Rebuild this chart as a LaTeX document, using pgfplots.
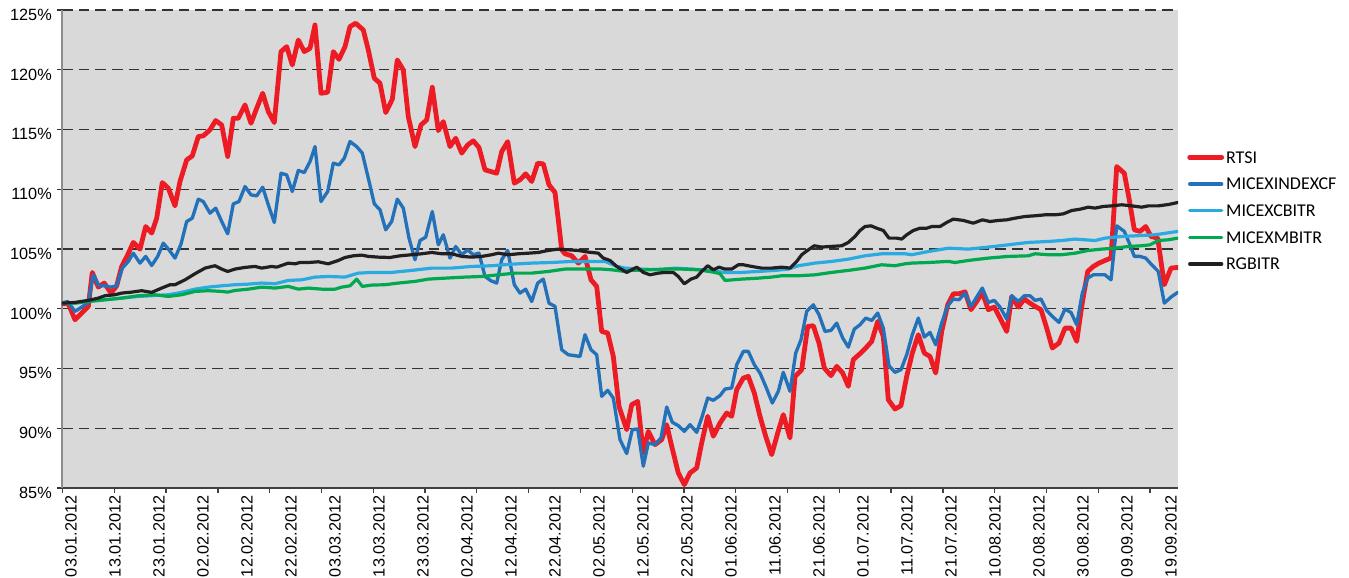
\documentclass[border=0pt]{standalone}
\usepackage{fontspec}
\setmainfont{Liberation Sans}
\newfontfamily\carlito{Carlito}
\usepackage{pgfplots}
\pgfplotsset{compat=1.18}
\definecolor{bgc}{RGB}{217,217,217}
\definecolor{cred}{RGB}{237,28,36}
\definecolor{cblue}{RGB}{34,113,185}
\definecolor{clblue}{RGB}{41,171,226}
\definecolor{cgreen}{RGB}{0,169,79}
\definecolor{cblack}{RGB}{35,31,32}
\begin{document}
\begin{tikzpicture}
\useasboundingbox (-46.5pt,-67.5pt) rectangle (965.25pt,366pt);
\begin{axis}[
  at={(0pt,0pt)}, anchor=south west,
  scale only axis, width=837pt, height=358.5pt,
  xmin=0, xmax=1116, ymin=85, ymax=125,
  axis background/.style={fill=bgc},
  axis x line*=bottom, axis y line*=left,
  x axis line style={draw=black!75, line width=1.6pt, -},
  y axis line style={draw=black!45, line width=1pt, -},
  ytick={85,90,...,125},
  yticklabels={85\%,90\%,95\%,100\%,105\%,110\%,115\%,120\%,125\%},
  ymajorgrids,
  grid style={black!80, line width=1.1pt, dash pattern=on 8pt off 4.5pt},
  tick align=outside,
  major tick length=3.75pt,
  ytick style={black!80, line width=1pt},
  xtick style={black!75, line width=1pt},
  yticklabel style={font=\fontsize{12.2}{14}\selectfont, anchor=east, inner sep=0pt, xshift=-3.75pt, yshift=-3.5pt},
  xtick={0.5,52.3,104.1,155.9,207.7,259.5,311.2,363.0,414.8,466.6,518.4,570.2,622.0,673.8,725.6,777.4,829.1,880.9,932.7,984.5,1036.3,1088.1},
  xticklabels={},
  extra x ticks={9,53,97,141,185,229,273,317,361,405,449,493,537,581,625,669,713,757,801,845,889,933,977,1021,1065,1109},
  extra x tick labels={03.01.2012,13.01.2012,23.01.2012,02.02.2012,12.02.2012,22.02.2012,03.03.2012,13.03.2012,23.03.2012,02.04.2012,12.04.2012,22.04.2012,02.05.2012,12.05.2012,22.05.2012,01.06.2012,11.06.2012,21.06.2012,01.07.2012,11.07.2012,21.07.2012,10.08.2012,20.08.2012,30.08.2012,09.09.2012,19.09.2012},
  extra x tick style={major tick length=0pt, grid=none,
    xticklabel style={font=\fontsize{12.2}{14}\selectfont, inner sep=0pt, yshift=-5.5pt, rotate=90, anchor=east}},
  legend style={at={(rel axis cs:1.0081,0.7203)}, anchor=north west, draw=none, fill=none,
    font=\carlito\fontsize{13.5}{15}\selectfont, row sep=0pt, inner sep=0pt,
    nodes={inner sep=0.5pt, text height=14pt, text depth=5pt}, column sep=1pt},
  legend cell align=left,
  legend image code/.code={\draw[#1] (0pt,0pt) -- (24pt,0pt);},
  every axis plot/.append style={line join=round, line cap=round},
]
\addplot[cred, line width=3.6pt] coordinates {
(0,100.42)(6.3,100.42)(13,99.08)(19.7,99.64)(26.3,100.2)(30.3,103.04)(36.3,101.81)(42.3,102.15)(49,101.31)(54.7,101.92)
(59.7,103.54)(65.7,104.51)(71.3,105.55)(78,104.99)(83.7,106.88)(89.7,106.33)(94.7,107.58)(100.3,110.56)(106.3,110.09)(113,108.61)
(118,110.65)(124.7,112.46)(130.3,112.79)(136.3,114.41)(141.3,114.47)(148,114.97)(153.7,115.75)(159.7,115.38)(165.7,112.74)(171.3,115.94)
(176.3,115.94)(183,117.06)(189,115.52)(194.7,116.78)(200.7,118.03)(206.3,116.5)(212.3,115.58)(219,121.52)(224.7,121.93)(230.3,120.4)
(236.3,122.49)(242.3,121.52)(248,121.79)(253,123.75)(259,118.03)(265.7,118.12)(271.3,121.52)(277,120.87)(283,121.93)(288,123.61)
(293.7,123.89)(301.3,123.33)(306.3,121.66)(312.3,119.29)(318,118.87)(323.7,116.42)(330.3,117.53)(335.3,120.82)(341.3,119.98)(346.3,116.08)
(353,113.57)(359,115.38)(364.7,115.8)(370.3,118.53)(376.3,114.91)(381.3,115.66)(388,113.57)(393.7,114.27)(399.7,113.02)(405.7,113.71)
(411.3,114.05)(417,113.49)(423,111.62)(429,111.48)(434.7,111.34)(439.7,113.15)(445.7,113.99)(452.3,110.51)(458,110.79)(463.7,111.29)
(469.7,110.65)(475.7,112.18)(481.3,112.12)(487,110.37)(493,109.73)(496.3,107.44)(499.7,104.93)(503,104.6)(509.7,104.43)(516.3,103.82)
(523,104.38)(529,102.42)(534.7,101.87)(539.7,98.1)(545.7,97.97)(551.3,96.01)(557,91.83)(564.7,89.88)(569.7,91.97)(575.7,92.25)
(581.3,87.93)(586.3,89.74)(593,88.63)(599.7,89.05)(604.7,90.3)(609.7,88.49)(616.3,86.26)(622.3,85.28)(628,86.26)(634.7,86.68)
(639.7,88.77)(645.7,91.0)(651.3,89.33)(658,90.44)(664.7,91.28)(669.7,91.0)(674.7,93.23)(681.3,94.2)(686.3,94.34)(692.3,92.95)
(698,91.0)(703.7,89.33)(709.7,87.79)(715.7,89.6)(721.3,91.14)(728,89.19)(733,94.34)(739.7,94.9)(745.7,98.52)(751.3,98.58)
(757,97.13)(762.3,95.04)(769,94.4)(774.7,95.18)(780.7,94.62)(786.3,93.51)(791.3,95.74)(798,96.24)(803.7,96.71)(809.7,97.27)
(815.7,98.94)(821.3,97.69)(826.3,92.39)(833,91.61)(839,91.89)(844.7,94.34)(850.3,96.29)(856.3,97.83)(862.3,96.29)(868,96.01)
(873.7,94.62)(879.7,98.1)(885.7,100.33)(891.3,101.25)(897,101.25)(903,101.42)(909,99.92)(914.7,100.61)(920.3,101.37)(926.3,99.92)
(932.3,100.14)(938,99.22)(944.7,98.1)(949.7,101.03)(956.3,100.14)(962.3,100.81)(968,100.47)(973,100.2)(979,99.92)(984.7,98.38)
(990.3,96.71)(997,97.13)(1003,98.38)(1009,98.38)(1014.7,97.27)(1019.7,100.2)(1025.7,103.12)(1031.3,103.54)(1037,103.82)(1043,104.04)
(1049,104.24)(1054.7,111.9)(1062.3,111.34)(1067.3,109.11)(1072.3,106.61)(1078,106.47)(1083.7,106.88)(1089,106.05)(1095.7,105.91)(1102.3,102.01)
(1109,103.4)(1115.7,103.46)
};
\addlegendentry{RTSI}
\addplot[cblue, line width=2.5pt] coordinates {
(0,100.47)(5.7,100.61)(13,99.78)(19.7,100.14)(26.3,100.53)(31.3,102.84)(37,101.92)(43,101.92)(49,101.81)(54.7,101.92)
(60.3,103.4)(66.3,103.96)(71.3,104.65)(78,103.82)(83.7,104.38)(89.7,103.62)(95.7,104.38)(101.3,105.49)(107,104.93)(113,104.24)
(119,105.41)(124.7,107.3)(130.3,107.58)(136.3,109.17)(141.3,108.97)(148,108.0)(153.7,108.42)(159.7,107.3)(165.7,106.27)(171.3,108.78)
(177,108.97)(183,110.23)(189,109.53)(194.7,109.45)(200.7,110.17)(206.3,108.7)(212.3,107.22)(219,111.34)(224.7,111.2)(230.3,109.81)
(236.3,111.57)(242.3,111.4)(248,112.32)(253,113.57)(259,108.97)(265.7,109.81)(271.3,112.18)(277,112.04)(282.3,112.6)(288,113.99)
(294.7,113.57)(300.3,113.02)(306.3,110.93)(312.3,108.78)(318,108.28)(323.7,106.61)(329.7,107.3)(335.3,109.17)(341.3,108.42)(347,105.91)
(353,104.1)(358,105.71)(363.7,105.99)(370.3,108.14)(376.3,105.35)(381.3,106.19)(388,104.24)(393.7,105.21)(399.7,104.52)(405.7,104.93)
(411.3,104.52)(417,104.65)(423,102.7)(429,102.34)(434.7,102.15)(439.7,104.1)(445.7,104.88)(452.3,102.01)(458,101.31)(463.7,101.64)
(469.7,100.61)(475.7,102.15)(481.3,102.48)(487,100.47)(493,100.2)(499.7,96.57)(506.3,96.15)(513,96.07)(518,96.01)(523,97.83)
(529,96.57)(534.7,96.15)(539.7,92.67)(545.7,93.17)(551.3,92.53)(558,89.05)(564.7,87.88)(570.3,89.88)(575.7,89.94)(581.3,86.82)
(586.3,88.77)(593,88.63)(599,89.19)(604.7,91.78)(610.3,90.5)(616.3,90.22)(622.3,89.74)(628,90.3)(634.7,89.66)(639.7,90.86)
(645.7,92.53)(651.3,92.34)(658,92.73)(663,93.28)(669.7,93.37)(674.7,95.32)(681.3,96.43)(686.3,96.43)(692.3,95.32)(698,94.62)
(703.7,93.51)(710.3,92.11)(716.3,93.09)(721.3,94.68)(728,93.09)(733.7,96.29)(739,97.41)(744.7,99.78)(751.3,100.33)(757,99.5)
(763,98.1)(769,98.19)(774.7,98.8)(780.7,97.55)(786.3,96.79)(792.3,98.3)(798,98.66)(803.7,99.22)(809.7,99.02)(815.7,99.64)
(821.3,98.38)(827,95.23)(833,94.68)(839,94.9)(844.7,96.15)(850.3,97.83)(856.3,99.22)(862.3,97.63)(868,98.02)(873.7,96.99)
(879.7,98.8)(885.7,100.25)(891.3,100.81)(897,100.75)(903,101.31)(909,100.2)(914.7,100.98)(920.3,101.73)(926.3,100.53)(932.3,100.7)
(938,100.14)(944.7,99.14)(949.7,101.09)(956.3,100.61)(962.3,101.09)(968,101.09)(973,100.7)(979,100.81)(984.7,99.86)(990.3,99.36)
(997,98.86)(1003,99.97)(1009,99.69)(1014.7,98.66)(1020.3,101.31)(1025.7,102.56)(1031.3,102.84)(1037,102.84)(1043,102.84)(1049,102.42)
(1054.7,106.94)(1062.3,106.47)(1067.3,105.49)(1072.3,104.38)(1078,104.38)(1083.7,104.24)(1089.7,103.68)(1096.3,103.12)(1102.3,100.47)(1109,100.98)
(1115.7,101.37)
};
\addlegendentry{MICEXINDEXCF}
\addplot[clblue, line width=2.4pt] coordinates {
(0,100.47)(13,100.47)(26.3,100.61)(43,100.75)(59.7,100.89)(76.3,101.03)(93,101.11)(106.3,101.17)(119.7,101.37)(133,101.64)
(146.3,101.81)(159.7,101.92)(173,102.01)(186.3,102.06)(199.7,102.15)(213,102.09)(226.3,102.37)(239.7,102.42)(253,102.65)(266.3,102.7)
(283,102.65)(296.3,102.98)(309.7,103.04)(329.7,103.04)(349.7,103.21)(369.7,103.4)(389.7,103.4)(409.7,103.54)(429.7,103.6)(449.7,103.73)
(469.7,103.82)(489.7,103.87)(509.7,103.96)(529.7,103.96)(543,103.96)(553,103.6)(563,103.4)(579.7,103.32)(596.3,103.26)(613,103.4)
(629.7,103.32)(646.3,103.21)(663,103.04)(679.7,103.04)(696.3,103.12)(713,103.21)(726.3,103.32)(736.3,103.6)(753,103.82)(769.7,103.96)
(786.3,104.15)(803,104.43)(819.7,104.6)(843,104.6)(849.7,104.52)(866.3,104.79)(886.3,105.07)(906.3,104.99)(926.3,105.16)(946.3,105.35)
(966.3,105.55)(986.3,105.63)(999.7,105.71)(1013,105.83)(1033,105.71)(1043,105.91)(1059.7,106.05)(1073,106.1)(1093,106.19)(1115.7,106.47)
};
\addlegendentry{MICEXCBITR}
\addplot[cgreen, line width=2.4pt] coordinates {
(0,100.47)(13,100.47)(26.3,100.61)(43,100.75)(59.7,100.89)(76.3,101.09)(93,101.17)(106.3,101.03)(119.7,101.17)(133,101.45)
(146.3,101.51)(159.7,101.45)(165.7,101.39)(173,101.53)(186.3,101.64)(199.7,101.81)(213,101.73)(226.3,101.87)(236.3,101.64)(246.3,101.73)
(259.7,101.64)(273,101.64)(279.7,101.81)(288,101.92)(294.7,102.48)(300.3,101.87)(309.7,101.98)(323,102.01)(336.3,102.15)(353,102.29)
(366.3,102.48)(383,102.56)(403,102.65)(419.7,102.7)(436.3,102.84)(453,102.98)(469.7,102.98)(486.3,103.12)(503,103.32)(519.7,103.32)
(539.7,103.32)(549.7,103.26)(563,103.12)(569.7,103.21)(586.3,103.26)(603,103.32)(619.7,103.32)(636.3,103.26)(653,103.04)(658,102.93)
(663,102.37)(679.7,102.48)(696.3,102.56)(709.7,102.65)(719.7,102.76)(736.3,102.76)(753,102.84)(769.7,103.04)(786.3,103.21)(803,103.4)
(819.7,103.68)(833,103.6)(843,103.76)(849.7,103.82)(866.3,103.87)(886.3,103.96)(893,103.87)(906.3,104.04)(926.3,104.24)(946.3,104.38)
(966.3,104.43)(973,104.6)(986.3,104.52)(999.7,104.52)(1013,104.65)(1026.3,104.88)(1039.7,104.99)(1053,105.07)(1066.3,105.21)(1079.7,105.27)
(1088,105.35)(1096.3,105.71)(1106.3,105.77)(1115.7,105.91)
};
\addlegendentry{MICEXMBITR}
\addplot[cblack, line width=2.4pt] coordinates {
(0,100.47)(13,100.53)(26.3,100.7)(36.3,100.89)(43,101.09)(53,101.17)(59.7,101.31)(69.7,101.39)(79.7,101.51)(89.7,101.37)
(99.7,101.73)(108,102.01)(113,102.01)(123,102.42)(133,102.93)(143,103.4)(153,103.6)(159.7,103.32)(165.7,103.12)(173,103.32)
(183,103.46)(193,103.54)(199.7,103.4)(209.7,103.54)(214.7,103.48)(226.3,103.82)(233,103.76)(238,103.87)(246.3,103.87)(256.3,103.93)
(266.3,103.76)(276.3,104.04)(283,104.29)(291.3,104.43)(299.7,104.49)(306.3,104.38)(316.3,104.32)(328,104.29)(338,104.43)(349.7,104.52)
(359.7,104.6)(369.7,104.71)(379.7,104.6)(389.7,104.6)(399.7,104.38)(409.7,104.32)(419.7,104.38)(429.7,104.52)(436.3,104.65)(446.3,104.52)
(456.3,104.6)(466.3,104.65)(476.3,104.71)(486.3,104.88)(496.3,104.99)(506.3,104.93)(516.3,104.88)(526.3,104.74)(536.3,104.65)(541.3,104.24)
(548,104.04)(554.7,103.54)(564.7,103.04)(574.7,103.48)(581.3,103.04)(588,102.84)(596.3,102.98)(603,103.04)(611.3,103.04)(616.3,102.7)
(622.3,102.09)(629,102.48)(634.7,102.65)(639.7,103.12)(645.7,103.6)(651.3,103.26)(657,103.48)(663,103.32)(669.7,103.32)(676.3,103.68)
(681.3,103.68)(689.7,103.54)(699.7,103.4)(709.7,103.4)(719.7,103.48)(728,103.4)(734.7,103.96)(739.7,104.52)(746.3,104.93)(752.3,105.27)
(759.7,105.16)(768,105.21)(779.7,105.27)(786.3,105.55)(793,106.05)(798,106.55)(803,106.88)(809,106.94)(814.7,106.74)(821.3,106.55)
(827,105.91)(834.7,105.91)(839.7,105.83)(844.7,106.19)(851.3,106.55)(858,106.74)(864.7,106.74)(869.7,106.88)(878,106.88)(884.7,107.22)
(891.3,107.5)(901.3,107.39)(911.3,107.16)(920.3,107.44)(928,107.3)(936.3,107.39)(944.7,107.44)(953,107.58)(963,107.72)(973,107.78)
(983,107.86)(993,107.86)(1001.3,107.94)(1009.7,108.22)(1018,108.33)(1026.3,108.5)(1033,108.42)(1041.3,108.56)(1049.7,108.61)(1059.7,108.7)
(1069.7,108.61)(1079.7,108.5)(1086.3,108.61)(1096.3,108.61)(1106.3,108.72)(1115.7,108.89)
};
\addlegendentry{RGBITR}
\end{axis}
\end{tikzpicture}
\end{document}
